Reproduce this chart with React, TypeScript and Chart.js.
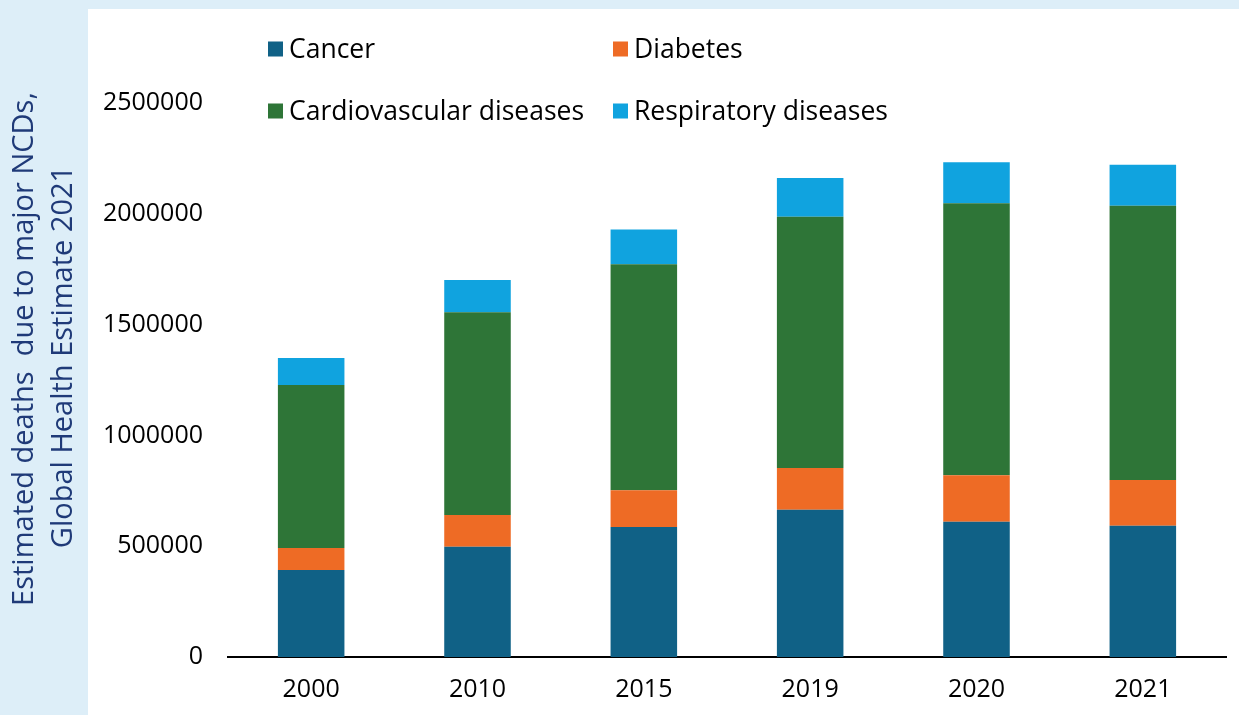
import React, { useEffect, useRef } from "react";
import { Chart, registerables } from "chart.js";

Chart.register(...registerables);

const categories = ["2000", "2010", "2015", "2019", "2020", "2021"];
const cancer = [392600, 497700, 586600, 664700, 610600, 592500];
const diabetes = [99300, 143100, 165700, 188200, 209300, 206200];
const cardiovascular = [735500, 914600, 1019800, 1134000, 1227500, 1237900];
const respiratory = [121900, 145800, 157600, 174600, 184900, 185000];

const seriesNames = ["Cancer", "Diabetes", "Cardiovascular diseases", "Respiratory diseases"];
const seriesColors = ["#106186", "#EE6B25", "#2E7537", "#10A3DF"];
const yTitle = ["Estimated deaths  due to major NCDs,", "Global Health Estimate 2021"];

const FONT = "'Open Sans', 'Noto Sans', sans-serif";

const backgroundPlugin = {
  id: "bgPanel",
  beforeDraw(chart: any) {
    const ctx = chart.ctx;
    ctx.save();
    ctx.fillStyle = "#DDEEF8";
    ctx.fillRect(0, 0, chart.width, chart.height);
    ctx.fillStyle = "#FFFFFF";
    ctx.fillRect(88, 9, chart.width - 88, chart.height - 9);
    ctx.restore();
  },
};

const yTitlePlugin = {
  id: "yTitle",
  afterDraw(chart: any) {
    const ctx = chart.ctx;
    const spots = [
      { x: 33, y: 349 },
      { x: 72, y: 357 },
    ];
    ctx.save();
    ctx.font = `29px ${FONT}`;
    ctx.fillStyle = "#1F3A78";
    ctx.textAlign = "center";
    ctx.textBaseline = "alphabetic";
    yTitle.forEach((line, i) => {
      ctx.save();
      ctx.translate(spots[i].x, spots[i].y);
      ctx.rotate(-Math.PI / 2);
      ctx.fillText(line, 0, 0);
      ctx.restore();
    });
    ctx.restore();
  },
};

const legendPlugin = {
  id: "customLegend",
  afterDraw(chart: any) {
    const ctx = chart.ctx;
    const items = [
      { i: 0, x: 268, y: 49 },
      { i: 1, x: 613, y: 49 },
      { i: 2, x: 268, y: 111 },
      { i: 3, x: 613, y: 111 },
    ];
    ctx.save();
    ctx.font = `26.5px ${FONT}`;
    ctx.textBaseline = "middle";
    ctx.textAlign = "left";
    items.forEach((it) => {
      ctx.fillStyle = seriesColors[it.i];
      ctx.fillRect(it.x, it.y - 7.5, 15, 15);
      ctx.fillStyle = "#000000";
      ctx.fillText(seriesNames[it.i], it.x + 21, it.y + 1);
    });
    ctx.restore();
  },
};

export default function App() {
  const ref = useRef<HTMLCanvasElement | null>(null);

  useEffect(() => {
    if (!ref.current) return;
    const values = [cancer, diabetes, cardiovascular, respiratory];
    const chart = new Chart(ref.current, {
      type: "bar",
      data: {
        labels: categories,
        datasets: values.map((v, i) => ({
          label: seriesNames[i],
          data: v,
          backgroundColor: seriesColors[i],
          borderWidth: 0,
          barPercentage: 0.4,
          categoryPercentage: 1,
        })),
      },
      options: {
        animation: false,
        responsive: true,
        maintainAspectRatio: false,
        layout: { padding: { left: 0, right: 13, top: 103, bottom: 0 } },
        plugins: {
          legend: { display: false },
          tooltip: { enabled: false },
        },
        scales: {
          x: {
            stacked: true,
            grid: { display: false, drawTicks: false },
            border: { display: true, color: "#000000", width: 2 },
            afterFit(scale: any) {
              scale.height = 58;
            },
            ticks: { color: "#000000", font: { family: FONT, size: 25 }, padding: 18 },
          },
          y: {
            stacked: true,
            min: 0,
            max: 2500000,
            grid: { display: false, drawTicks: false },
            border: { display: false },
            afterFit(scale: any) {
              scale.width = 228;
            },
            ticks: {
              stepSize: 500000,
              color: "#000000",
              font: { family: FONT, size: 25 },
              padding: 25,
              callback: (v: any) => String(v),
            },
          },
        },
      },
      plugins: [backgroundPlugin, yTitlePlugin, legendPlugin],
    });
    return () => chart.destroy();
  }, []);

  return (
    <div style={{ position: "absolute", left: 0, top: 0, width: 1239, height: 715, background: "#DDEEF8" }}>
      <canvas ref={ref} />
    </div>
  );
}
